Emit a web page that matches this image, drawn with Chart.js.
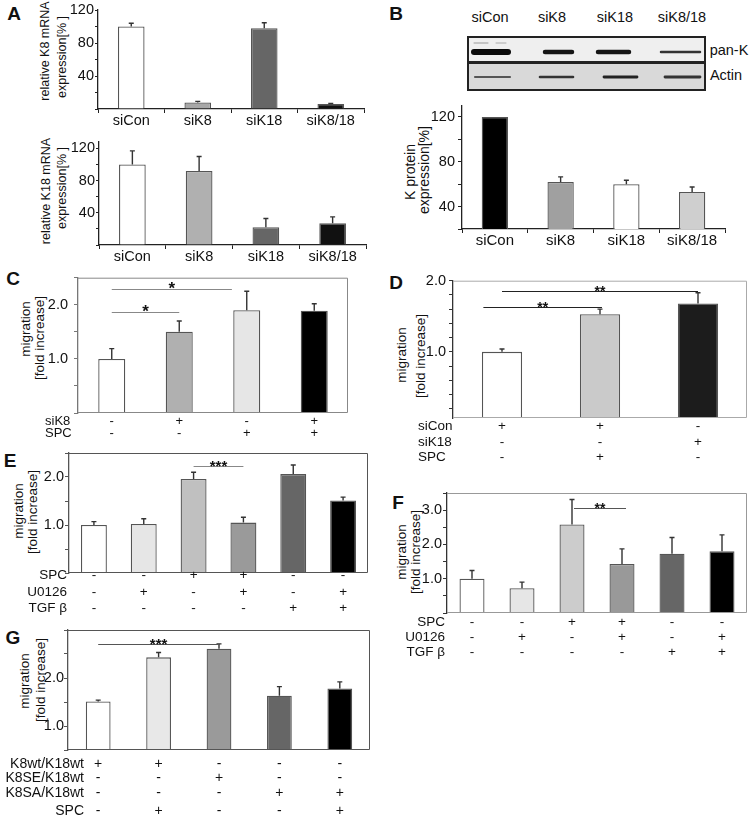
<!DOCTYPE html>
<html>
<head>
<meta charset="utf-8">
<script src="https://cdn.jsdelivr.net/npm/chart.js@4.4.0/dist/chart.umd.min.js"></script>
<style>
body { margin: 0; background: #fff; width: 754px; height: 821px; position: relative; overflow: hidden; font-family: "Liberation Sans", Arial, sans-serif; color: #111; }
canvas { position: absolute; }
.t { position: absolute; white-space: nowrap; transform: translate(-50%, -50%); line-height: 1; }
.let { font-weight: bold; font-size: 19px; }
.yt { font-size: 13.5px; transform: translate(-50%, -50%) rotate(-90deg); }
.bl { font-size: 14.5px; }
</style>
</head>
<body>
<div class="t let" style="left:14px;top:13px">A</div>
<div class="t let" style="left:396px;top:13px">B</div>
<div class="t let" style="left:13px;top:278px">C</div>
<div class="t let" style="left:396px;top:282px">D</div>
<div class="t let" style="left:10px;top:460px">E</div>
<div class="t let" style="left:398px;top:502px">F</div>
<div class="t let" style="left:13px;top:637px">G</div>

<div class="t yt" style="left:45px;top:51px;font-size:12.5px">relative K8 mRNA</div>
<div class="t yt" style="left:62px;top:57px;font-size:12.5px">expression[% ]</div>
<div class="t yt" style="left:46px;top:191px;font-size:12.5px">relative K18 mRNA</div>
<div class="t yt" style="left:62px;top:188px;font-size:12.5px">expression[% ]</div>
<div class="t yt" style="left:410px;top:172px;font-size:14px">K protein</div>
<div class="t yt" style="left:424px;top:170px;font-size:14px">expression[%]</div>
<div class="t yt" style="left:26px;top:329px">migration</div>
<div class="t yt" style="left:40px;top:338px">[fold increase]</div>
<div class="t yt" style="left:402px;top:355px">migration</div>
<div class="t yt" style="left:421px;top:356px">[fold increase]</div>
<div class="t yt" style="left:19px;top:511px">migration</div>
<div class="t yt" style="left:33px;top:512px">[fold increase]</div>
<div class="t yt" style="left:402px;top:552px">migration</div>
<div class="t yt" style="left:416px;top:552px">[fold increase]</div>
<div class="t yt" style="left:25px;top:681px">migration</div>
<div class="t yt" style="left:41px;top:680px">[fold increase]</div>

<div class="t bl" style="left:490px;top:17px">siCon</div>
<div class="t bl" style="left:552px;top:17px">siK8</div>
<div class="t bl" style="left:615px;top:17px">siK18</div>
<div class="t bl" style="left:682px;top:17px">siK8/18</div>
<div class="t bl" style="left:729px;top:50px">pan-K</div>
<div class="t bl" style="left:726px;top:75px">Actin</div>
<canvas id="blot" width="242" height="58" style="left:466px;top:35px"></canvas>

<script>
Chart.defaults.font.family = "'Liberation Sans', Arial, sans-serif";
Chart.defaults.color = '#1a1a1a';
const FAM = "'Liberation Sans', Arial, sans-serif";

// ---------- data ----------
const siLabels = ["siCon", "siK8", "siK18", "siK8/18"];
const k8mRNA = [100, 8, 98, 6];
const k8mRNAErr = [4, 1.2, 6.5, 0.7];
const k18mRNA = [100, 92, 22, 27];
const k18mRNAErr = [17, 18, 11, 8];
const mRNATicks = [40, 80, 120];

const kProtein = [120, 62, 60, 53];
const kProteinErr = [0, 4.5, 3.5, 4.5];
const proteinTicks = [40, 80, 120];

const foldTicks = [1, 2];
const foldTicksF = [1, 2, 3];

const migC = [1.0, 1.5, 1.9, 1.89];
const migCErr = [0.19, 0.2, 0.35, 0.13];
const rowsC = ["siK8", "SPC"];
const signsC = [["-", "+", "-", "+"], ["-", "-", "+", "+"]];
const sigC = [{ from: 0, to: 1, y: 1.875, text: "*" }, { from: 0, to: 1.78, y: 2.29, text: "*" }];

const migD = [1.0, 1.53, 1.68];
const migDErr = [0.04, 0.07, 0.15];
const rowsD = ["siCon", "siK18", "SPC"];
const signsD = [["+", "+", "-"], ["-", "-", "+"], ["-", "+", "-"]];
const sigD = [{ from: -0.19, to: 1.02, y: 1.625, text: "**" }, { from: 0, to: 2, y: 1.85, text: "**" }];

const rowsEF = ["SPC", "U0126", "TGF β"];
const signsEF = [["-", "-", "+", "+", "-", "-"], ["-", "+", "-", "+", "-", "+"], ["-", "-", "-", "-", "+", "+"]];

const migE = [1.0, 1.02, 1.96, 1.05, 2.06, 1.51];
const migEErr = [0.07, 0.11, 0.14, 0.11, 0.19, 0.07];
const sigE = [{ from: 2, to: 3, y: 2.23, text: "***" }];

const migF = [1.0, 0.72, 2.58, 1.43, 1.73, 1.8];
const migFErr = [0.24, 0.18, 0.73, 0.44, 0.47, 0.48];
const sigF = [{ from: 2.04, to: 3.08, y: 3.07, text: "**" }];

const migG = [1.51, 2.43, 2.61, 1.63, 1.78];
const migGErr = [0.03, 0.1, 0.1, 0.19, 0.14];
const rowsG = ["K8wt/K18wt", "K8SE/K18wt", "K8SA/K18wt", "SPC"];
const signsG = [["+", "+", "-", "-", "-"], ["-", "-", "+", "-", "-"], ["-", "-", "-", "+", "+"], ["-", "+", "-", "-", "+"]];
const sigG = [{ from: 0, to: 2, y: 2.71, text: "***" }];

// ---------- drawing ----------
function extrasFor(p, ox, oy) {
    return {
        id: 'extras',
        afterDatasetsDraw(chart) {
            const ctx = chart.ctx, xs = chart.scales.x, ys = chart.scales.y, a = chart.chartArea;
            const bars = chart.getDatasetMeta(0).data;
            const vals = chart.data.datasets[0].data;
            ctx.save();
            // box round the plot (left side is the y axis)
            if (p.frame) {
                ctx.strokeStyle = p.frame;
                ctx.lineWidth = 1;
                ctx.beginPath();
                ctx.moveTo(a.left, a.top + 0.5);
                ctx.lineTo(a.right - 0.5, a.top + 0.5);
                ctx.lineTo(a.right - 0.5, a.bottom - 0.5);
                ctx.lineTo(a.left, a.bottom - 0.5);
                ctx.stroke();
            }
            // error bars (upper half only)
            ctx.strokeStyle = '#333';
            ctx.lineWidth = 1.4;
            (p.err || []).forEach((e, i) => {
                if (!e) return;
                const x = bars[i].x;
                const y0 = ys.getPixelForValue(vals[i]), y1 = ys.getPixelForValue(vals[i] + e);
                ctx.beginPath();
                ctx.moveTo(x, y0); ctx.lineTo(x, y1);
                ctx.moveTo(x - 2.5, y1); ctx.lineTo(x + 2.5, y1);
                ctx.stroke();
            });
            // significance lines
            (p.sig || []).forEach(s => {
                const y = Math.round(ys.getPixelForValue(s.y)) + 0.5;
                const x0 = xs.getPixelForValue(s.from), x1 = xs.getPixelForValue(s.to);
                ctx.strokeStyle = p.sigColor;
                ctx.lineWidth = 1;
                ctx.beginPath(); ctx.moveTo(x0, y); ctx.lineTo(x1, y); ctx.stroke();
                ctx.fillStyle = '#111';
                ctx.font = 'bold ' + p.starSize + 'px ' + FAM;
                ctx.textAlign = 'center';
                ctx.textBaseline = 'alphabetic';
                ctx.fillText(s.text, (x0 + x1) / 2, y + 4);
            });
            // condition rows under the bars
            if (p.rows) {
                ctx.fillStyle = '#111';
                ctx.font = p.rowFont + 'px ' + FAM;
                ctx.textBaseline = 'middle';
                p.rows.forEach((name, r) => {
                    const y = p.rowY[r] - oy;
                    ctx.textAlign = p.rowAlign;
                    ctx.fillText(name, p.rowX - ox, y);
                    ctx.textAlign = 'center';
                    p.signs[r].forEach((s, i) => ctx.fillText(s, xs.getPixelForValue(i), y));
                });
            }
            ctx.restore();
        }
    };
}

function panel(p) {
    const [l, t, r, b] = p.area;
    const yw = 42, xh = p.labels ? 24 : 0;
    const ox = p.ox !== undefined ? p.ox : l - yw;
    const oy = t - 10;
    const lastRow = p.rowY ? Math.max(...p.rowY) + 12 : b + xh + 6;
    const H = Math.max(lastRow, b + xh + 6) - oy;
    const W = r - ox + 12;
    const cv = document.createElement('canvas');
    cv.width = W; cv.height = H;
    cv.style.left = ox + 'px'; cv.style.top = oy + 'px';
    document.body.appendChild(cv);
    const major = p.major;
    new Chart(cv, {
        type: 'bar',
        data: {
            labels: p.labels || p.values.map((v, i) => i),
            datasets: [{
                data: p.values,
                backgroundColor: p.colors,
                borderColor: p.edge || '#555',
                borderWidth: 1.3,
                barPercentage: p.bp,
                categoryPercentage: 1
            }]
        },
        options: {
            responsive: false,
            animation: false,
            devicePixelRatio: 1,
            layout: { padding: { left: l - yw - ox, top: 10, right: 12, bottom: H - (b - oy) - xh } },
            plugins: { legend: { display: false }, tooltip: { enabled: false } },
            scales: {
                x: {
                    grid: { display: !!p.labels, drawOnChartArea: false, offset: true, tickLength: 4, color: p.axis, lineWidth: 1 },
                    border: { display: !!p.labels, color: p.axis, width: 1.3 },
                    ticks: { display: !!p.labels, font: { size: p.xFont || 14.5 }, padding: -1, color: '#111' },
                    afterFit: s => { s.height = xh; }
                },
                y: {
                    min: p.min, max: p.max,
                    grid: { drawOnChartArea: false, tickLength: p.tl || 4, color: p.axis, lineWidth: 1 },
                    border: { color: p.axis, width: 1.3 },
                    ticks: {
                        autoSkip: false, padding: p.tp, color: '#111',
                        font: { size: 14.5 },
                        callback: v => major.some(m => Math.abs(m - v) < 1e-6) ? (p.dec ? v.toFixed(1) : String(v)) : ''
                    },
                    // tick marks every p.step, starting at the first multiple above min
                    afterBuildTicks: s => {
                        const out = [];
                        for (let k = Math.ceil(p.min / p.step - 1e-9); k * p.step <= p.max + 1e-9; k++) out.push({ value: +(k * p.step).toFixed(4) });
                        s.ticks = out;
                    },
                    afterFit: s => { s.width = yw; }
                }
            }
        },
        plugins: [extrasFor(p, ox, oy)]
    });
}

panel({ area: [98, 10, 364, 109], labels: siLabels, values: k8mRNA, err: k8mRNAErr, colors: ["#ffffff", "#a8a8a8", "#666666", "#111111"],
    min: 0, max: 120, step: 20, major: mRNATicks, tl: 3, tp: 1, bp: 0.4, axis: '#222' });
panel({ area: [99, 142, 366, 245], labels: siLabels, values: k18mRNA, err: k18mRNAErr, colors: ["#ffffff", "#b0b0b0", "#666666", "#111111"],
    min: 0, max: 128, step: 20, major: mRNATicks, tl: 3, tp: 1, bp: 0.4, axis: '#222' });
panel({ area: [462, 104, 725, 229], labels: siLabels, values: kProtein, err: kProteinErr, colors: ["#000000", "#a0a0a0", "#ffffff", "#cfcfcf"],
    min: 20, max: 130, step: 20, major: proteinTicks, tl: 4, tp: 3, bp: 0.4, axis: '#222', xFont: 15 });

panel({ area: [78, 273, 348, 413], ox: 0, values: migC, err: migCErr, colors: ["#ffffff", "#b0b0b0", "#e6e6e6", "#000000"],
    min: 0, max: 2.5, step: 0.5, major: foldTicks, dec: true, tl: 4, tp: 6, bp: 0.4, axis: '#777', frame: '#888',
    sig: sigC, sigColor: '#888', starSize: 17, rows: rowsC, signs: signsC, rowY: [421, 433], rowX: 45, rowAlign: 'left', rowFont: 13 });
panel({ area: [453, 279, 747, 418], ox: 395, values: migD, err: migDErr, colors: ["#ffffff", "#cacaca", "#1c1c1c"],
    min: 0.07, max: 2.0, step: 0.2, major: foldTicks, dec: true, tl: 4, tp: 3, bp: 0.41, axis: '#333', frame: '#aaa',
    sig: sigD, sigColor: '#222', starSize: 14, rows: rowsD, signs: signsD, rowY: [426, 442, 457], rowX: 418, rowAlign: 'left', rowFont: 13.5 });
panel({ area: [69, 453, 368, 573], ox: 0, values: migE, err: migEErr, colors: ["#ffffff", "#e6e6e6", "#c0c0c0", "#9a9a9a", "#666666", "#000000"],
    min: 0, max: 2.5, step: 0.5, major: foldTicks, dec: true, tl: 4, tp: 1, bp: 0.52, axis: '#555', frame: '#555',
    sig: sigE, sigColor: '#888', starSize: 15, rows: rowsEF, signs: signsEF, rowY: [575, 592, 608], rowX: 67, rowAlign: 'right', rowFont: 13.5 });
panel({ area: [447, 493, 747, 613], ox: 395, values: migF, err: migFErr, colors: ["#ffffff", "#e6e6e6", "#cccccc", "#999999", "#666666", "#000000"],
    min: 0, max: 3.5, step: 0.5, major: foldTicksF, dec: true, tl: 4, tp: 1, bp: 0.5, axis: '#333', frame: '#999',
    sig: sigF, sigColor: '#555', starSize: 14, rows: rowsEF, signs: signsEF, rowY: [622, 637, 652], rowX: 445, rowAlign: 'right', rowFont: 13.5 });
panel({ area: [68, 630, 370, 750], ox: 0, values: migG, err: migGErr, colors: ["#ffffff", "#e8e8e8", "#9a9a9a", "#666666", "#000000"],
    min: 0.5, max: 3.0, step: 0.5, major: foldTicks, dec: true, tl: 4, tp: 0, bp: 0.41, axis: '#555', frame: '#555',
    sig: sigG, sigColor: '#555', starSize: 15, rows: rowsG, signs: signsG, rowY: [764, 778, 793, 811], rowX: 84, rowAlign: 'right', rowFont: 14 });

// ---------- western blot strip (panel B) ----------
(function drawBlot() {
    const g = document.getElementById('blot').getContext('2d');
    g.fillStyle = '#efefef'; g.fillRect(2, 2, 238, 25);
    g.fillStyle = '#d9d9d9'; g.fillRect(2, 28, 238, 27);
    g.strokeStyle = '#222'; g.lineWidth = 2;
    g.strokeRect(2, 2, 237, 25);
    g.strokeRect(2, 28, 237, 27);
    g.filter = 'blur(0.7px)';
    g.lineCap = 'round';
    const band = (x0, x1, y, w, c) => { g.strokeStyle = c; g.lineWidth = w; g.beginPath(); g.moveTo(x0, y); g.lineTo(x1, y); g.stroke(); };
    // pan-K
    band(8, 42, 17, 6, '#0a0a0a');
    band(79, 106, 17, 4.5, '#151515');
    band(132, 163, 17, 4.5, '#151515');
    band(195, 234, 17, 2.5, '#333');
    band(8, 22, 8, 1, '#999'); band(30, 40, 8, 1, '#aaa');
    // actin
    band(9, 44, 42, 2.2, '#555');
    band(74, 107, 42, 2.6, '#333');
    band(138, 171, 42, 2.8, '#222');
    band(199, 234, 42, 2.8, '#333');
})();
</script>
</body>
</html>
